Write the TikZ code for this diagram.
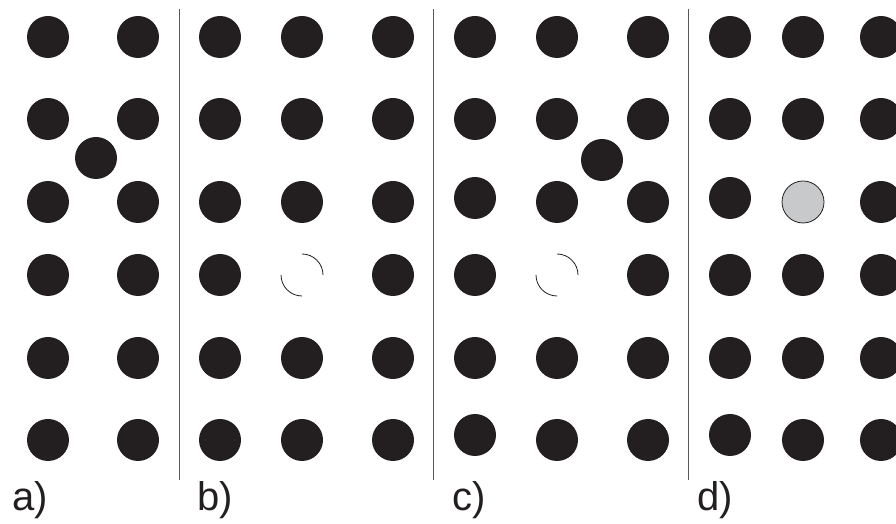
\documentclass[tikz,border=0pt]{standalone}
\usepackage{fontspec}
\setmainfont{Liberation Sans}
\usetikzlibrary{positioning}
\definecolor{AtomBlack}{HTML}{231F20}
\definecolor{AtomGrey}{HTML}{C8C9CB}
\definecolor{RuleGrey}{HTML}{58595B}

\begin{document}
\begin{tikzpicture}[x=1pt,y=1pt,every node/.style={font=\fontsize{40}{44}\selectfont,text=AtomBlack,inner sep=0pt,anchor=base west}]
    \clip (0,0) rectangle (896,524);
    \useasboundingbox (0,0) rectangle (896,524);
    % lattice rows (full)
    \foreach \y in {487,405,166}{
      \foreach \x in {48,138,220,302,393,475,557,648,730,803,881}{
        \fill[AtomBlack] (\x,\y) circle (21);}}
    \foreach \x/\y in {48/322,138/322,220/322,302/322,393/322,475/326,557/322,648/322,730/326,881/322}{
      \fill[AtomBlack] (\x,\y) circle (21);}
    \foreach \x in {48,138,220,393,475,648,730,803,881}{
      \fill[AtomBlack] (\x,249) circle (21);}
    \foreach \x/\y in {48/84,138/84,220/84,302/84,393/84,475/89,557/84,648/84,730/89,803/84,881/84}{
      \fill[AtomBlack] (\x,\y) circle (21);}
    % interstitials
    \fill[AtomBlack] (96,366) circle (21);
    \fill[AtomBlack] (602,364) circle (21);
    % vacancies
    \foreach \x in {302,557}{
      \draw[AtomBlack,line width=0.8] (\x+21,249) arc[start angle=0,end angle=90,radius=21];
      \draw[AtomBlack,line width=0.8] (\x-21,249) arc[start angle=180,end angle=270,radius=21];}
    % substitutional
    \filldraw[fill=AtomGrey,draw=AtomBlack,line width=0.8] (803,322) circle (21);
    % dividers
    \foreach \x in {179,433,688}{
      \draw[RuleGrey,line width=1] (\x,515) -- (\x,44);}
    \node (labA) at (12,13) {a)};
    \node (labB) at (197,13) {b)};
    \node (labC) at (452,13) {c)};
    \node (labD) at (697,13) {d)};
  \end{tikzpicture}
\end{document}
